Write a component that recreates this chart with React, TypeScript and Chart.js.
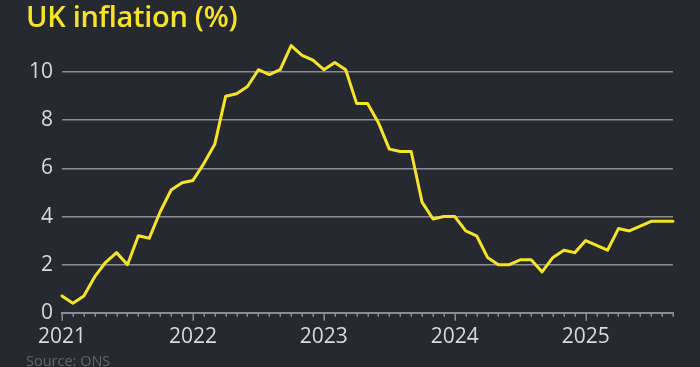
import React, { useEffect, useRef } from 'react';
import { Chart, registerables } from 'chart.js';

Chart.register(...registerables);

const inflation2021 = [0.7, 0.4, 0.7, 1.5, 2.1, 2.5, 2.0, 3.2, 3.1, 4.2, 5.1, 5.4];
const inflation2022 = [5.5, 6.2, 7.0, 9.0, 9.1, 9.4, 10.1, 9.9, 10.1, 11.1, 10.7, 10.5];
const inflation2023 = [10.1, 10.4, 10.1, 8.7, 8.7, 7.9, 6.8, 6.7, 6.7, 4.6, 3.9, 4.0];
const inflation2024 = [4.0, 3.4, 3.2, 2.3, 2.0, 2.0, 2.2, 2.2, 1.7, 2.3, 2.6, 2.5];
const inflation2025 = [3.0, 2.8, 2.6, 3.5, 3.4, 3.6, 3.8, 3.8, 3.8];
const yearLabels = ['2021', '2022', '2023', '2024', '2025'];
const yTicks = [0, 2, 4, 6, 8, 10];

const BG = '#262930';
const GRID = '#8b8d92';
const LABEL = '#d8dadd';
const YELLOW = '#f6e42c';
const FONT = '"Open Sans", "Noto Sans", sans-serif';

const allValues = [
  ...inflation2021,
  ...inflation2022,
  ...inflation2023,
  ...inflation2024,
  ...inflation2025,
];

const monthTicksPlugin = {
  id: 'monthTicks',
  afterDraw(chart: any) {
    const xs = chart.scales.x;
    const ctx = chart.ctx;
    const bottom = chart.chartArea.bottom;
    ctx.save();
    ctx.strokeStyle = GRID;
    ctx.lineWidth = 1.5;
    for (let i = 0; i < allValues.length; i++) {
      const x = Math.round(xs.getPixelForValue(i)) + 0.25;
      const len = i % 12 === 0 ? 8 : 4;
      ctx.beginPath();
      ctx.moveTo(x, bottom);
      ctx.lineTo(x, bottom + len);
      ctx.stroke();
    }
    ctx.restore();
  },
};

export default function App() {
  const canvasRef = useRef<HTMLCanvasElement | null>(null);

  useEffect(() => {
    if (!canvasRef.current) return;
    const data = allValues.map((v, i) => ({ x: i, y: v }));
    const chart = new Chart(canvasRef.current, {
      type: 'line',
      data: {
        datasets: [
          {
            label: 'UK inflation (%)',
            data,
            borderColor: YELLOW,
            borderWidth: 3,
            pointRadius: 0,
            tension: 0,
            borderJoinStyle: 'round',
            borderCapStyle: 'round',
            clip: false as any,
          },
        ],
      },
      options: {
        responsive: false,
        animation: false,
        events: [],
        layout: { padding: { left: 20, right: 27, top: 36, bottom: 13 } },
        plugins: {
          legend: { display: false },
          tooltip: { enabled: false },
          title: { display: false },
        },
        scales: {
          x: {
            type: 'linear',
            min: 0,
            max: allValues.length - 1,
            border: { display: true, color: GRID, width: 2 },
            grid: {
              display: true,
              drawOnChartArea: false,
              drawTicks: true,
              tickLength: 8,
              tickColor: 'transparent',
            },
            afterBuildTicks: (axis: any) => {
              axis.ticks = yearLabels.map((_, i) => ({ value: i * 12 }));
            },
            ticks: {
              autoSkip: false,
              maxRotation: 0,
              padding: 4,
              color: LABEL,
              font: { family: FONT, size: 21 },
              callback: (v: any) => yearLabels[Math.round(Number(v) / 12)] ?? '',
            },
          },
          y: {
            min: 0,
            max: 11.5,
            border: { display: false },
            grid: {
              color: (ctx: any) => (ctx.tick && ctx.tick.value === 0 ? 'transparent' : GRID),
              lineWidth: 1.5,
              drawTicks: false,
            },
            afterBuildTicks: (axis: any) => {
              axis.ticks = yTicks.map((v) => ({ value: v }));
            },
            ticks: {
              padding: 9,
              color: LABEL,
              font: { family: FONT, size: 21 },
              callback: (v: any) => String(v),
            },
          },
        },
      },
      plugins: [monthTicksPlugin],
    });
    return () => chart.destroy();
  }, []);

  return (
    <div
      style={{
        position: 'fixed',
        left: 0,
        top: 0,
        width: 700,
        height: 367,
        background: BG,
        overflow: 'hidden',
      }}
    >
      <canvas
        ref={canvasRef}
        width={700}
        height={367}
        style={{ position: 'absolute', left: 0, top: 0, width: 700, height: 367 }}
      />
      <div
        style={{
          position: 'absolute',
          left: 26,
          top: 1,
          fontFamily: FONT,
          fontWeight: 600,
          fontSize: 29,
          lineHeight: 1,
          color: YELLOW,
          whiteSpace: 'nowrap',
          letterSpacing: -0.3,
        }}
      >
        UK inflation (%)
      </div>
      <div
        style={{
          position: 'absolute',
          left: 26,
          top: 354,
          fontFamily: FONT,
          fontSize: 14.5,
          lineHeight: 1,
          color: '#62656c',
          whiteSpace: 'nowrap',
        }}
      >
        Source: ONS
      </div>
    </div>
  );
}
